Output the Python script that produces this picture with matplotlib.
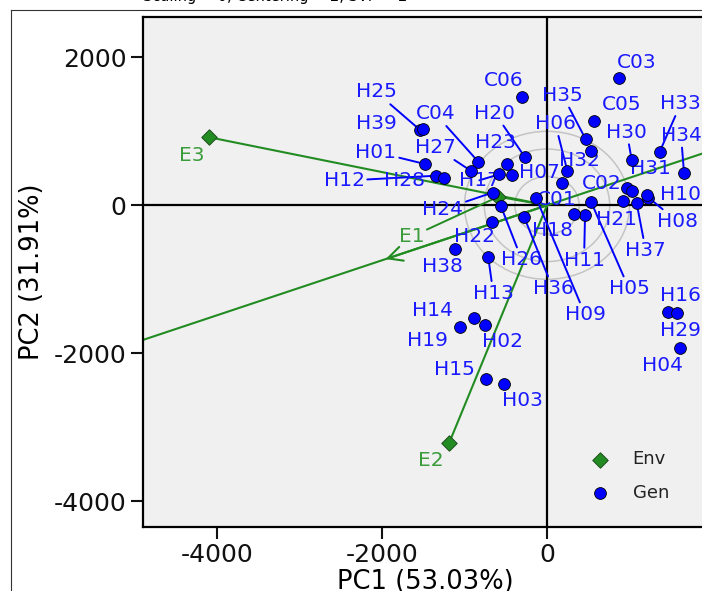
"""GGE biplot (discriminativeness vs. representativeness view) for the genotype/environment PCA."""

import matplotlib

matplotlib.use("Agg")
import matplotlib.pyplot as plt
import numpy as np
from matplotlib.lines import Line2D
from matplotlib.patches import Ellipse

plt.rcParams["axes.unicode_minus"] = False

# --- data --------------------------------------------------------------------
gen_names = [
    "C01", "C02", "C03", "C04", "C05", "C06",
    "H01", "H02", "H03", "H04", "H05", "H06", "H07", "H08", "H09", "H10",
    "H11", "H12", "H13", "H14", "H15", "H16", "H17", "H18", "H19", "H20",
    "H21", "H22", "H23", "H24", "H25", "H26", "H27", "H28", "H29", "H30",
    "H31", "H32", "H33", "H34", "H35", "H36", "H37", "H38", "H39",
]
gen_pc1 = [
    178, 966, 873, -833, 570, -299,
    -1479, -752, -518, 1612, 533, 246, -421, 1230, -133, 1212,
    461, -1345, -712, -885, -739, 1470, -578, 327, -1055, -267,
    918, -663, -481, -658, -1539, -561, -925, -1248, 1572, 1027,
    1027, 533, 1366, 1661, 469, -279, 1087, -1115, -1509,
]
gen_pc2 = [
    297, 238, 1716, 589, 1139, 1468,
    558, -1618, -2419, -1932, 49, 468, 409, 105, 103, 146,
    -131, 400, -703, -1527, -2347, -1446, 419, -122, -1641, 649,
    62, -222, 558, 173, 1018, -5, 468, 365, -1459, 612,
    197, 738, 724, 432, 892, -154, 27, -591, 1031,
]

env_names = ["E1", "E2", "E3"]
env_pc1 = [-590, -1188, -4093]
env_pc2 = [116, -3216, 919]

circle_radii = [390, 760, 1000]

pc1_share = 53.03
pc2_share = 31.91

# --- layout / style -----------------------------------------------------------
GEN_COLOR = "#0000ff"
GEN_TEXT = "#1a1aff"
ENV_COLOR = "#228b22"
ENV_TEXT = "#3a9c3a"
LABEL_SIZE = 14.5
AXIS_SIZE = 18

# label offset from its point, in pixels (right, down) as measured on the picture
LABEL_OFFSETS = {
    "C01": (-5, 16), "C02": (-25, -4), "C03": (18, -16), "C04": (-43, -48),
    "C05": (28, -17), "C06": (-19, -16), "H01": (-49, -12), "H02": (18, 16),
    "H03": (18, 16), "H04": (-18, 17), "H05": (38, 87), "H06": (-12, -47),
    "H07": (27, -3), "H08": (29, 24), "H09": (49, 117), "H10": (33, 0),
    "H11": (-1, 45), "H12": (-92, 5), "H13": (5, 36), "H14": (-41, -8),
    "H15": (-32, -9), "H16": (12, -17), "H17": (-20, 6), "H18": (-21, 16),
    "H19": (-33, 14), "H20": (-30, -44), "H21": (-6, 19), "H22": (-18, 15),
    "H23": (-12, -22), "H24": (-50, 17), "H25": (-44, -38), "H26": (21, 54),
    "H27": (-35, -23), "H28": (-40, 2), "H29": (4, 17), "H30": (-5, -28),
    "H31": (19, -22), "H32": (-12, 10), "H33": (21, -48), "H34": (-3, -38),
    "H35": (-23, -44), "H36": (29, 72), "H37": (9, 47), "H38": (-13, 17),
    "H39": (-46, -6),
}
LEADERS = {
    "C04", "H01", "H05", "H06", "H08", "H09", "H11", "H12", "H13", "H17",
    "H20", "H24", "H25", "H26", "H27", "H30", "H33", "H34", "H35", "H36", "H37",
}
ENV_OFFSETS = {"E1": (-87, 40), "E2": (-18, 17), "E3": (-18, 18)}
ENV_LEADERS = {"E1"}

PX_TO_PT = 0.72  # figure is rendered at 100 dpi

fig = plt.figure(figsize=(7.02, 5.91), dpi=100)
ax = fig.add_axes([0.2037, 0.1088, 0.8034, 0.8616])
ax.set_facecolor("#f0f0f0")
ax.set_xlim(-4897, 1939)
ax.set_ylim(-4343, 2538)

# concentric reference circles around the origin (ellipses on screen)
for radius in circle_radii:
    ax.add_patch(Ellipse((0, 0), 2 * radius, 2 * radius, fill=False,
                         edgecolor="#c4c4c4", linewidth=1.1, zorder=1))

ax.axhline(0, color="black", linewidth=1.6, zorder=1.5)
ax.axvline(0, color="black", linewidth=1.6, zorder=1.5)

# environment vectors
for x, y in zip(env_pc1, env_pc2):
    ax.plot([0, x], [0, y], color=ENV_COLOR, linewidth=1.5, zorder=2)

# average-environment axis with arrow at the mean environment
mean_x = float(np.mean(env_pc1))
mean_y = float(np.mean(env_pc2))
ax.axline((0, 0), (mean_x, mean_y), color=ENV_COLOR, linewidth=1.5, zorder=2)
ax.annotate("", xy=(mean_x, mean_y), xytext=(0, 0),
            arrowprops=dict(arrowstyle="->", color=ENV_COLOR, lw=1.5,
                            mutation_scale=26, shrinkA=0, shrinkB=0),
            zorder=2)

# genotype labels
for name, x, y in zip(gen_names, gen_pc1, gen_pc2):
    dx, dy = LABEL_OFFSETS[name]
    arrow = None
    if name in LEADERS:
        arrow = dict(arrowstyle="-", color=GEN_COLOR, lw=1.4, shrinkA=0, shrinkB=0)
    ax.annotate(name, xy=(x, y), xytext=(dx * PX_TO_PT, -dy * PX_TO_PT),
                textcoords="offset points", ha="center", va="center",
                fontsize=LABEL_SIZE, color=GEN_TEXT, arrowprops=arrow, zorder=3)

for name, x, y in zip(env_names, env_pc1, env_pc2):
    dx, dy = ENV_OFFSETS[name]
    arrow = None
    if name in ENV_LEADERS:
        arrow = dict(arrowstyle="-", color=ENV_COLOR, lw=1.4, shrinkA=0, shrinkB=0)
    ax.annotate(name, xy=(x, y), xytext=(dx * PX_TO_PT, -dy * PX_TO_PT),
                textcoords="offset points", ha="center", va="center",
                fontsize=LABEL_SIZE, color=ENV_TEXT, arrowprops=arrow, zorder=3)

ax.scatter(env_pc1, env_pc2, marker="D", s=62, color=ENV_COLOR,
           edgecolors="#1f4f1f", linewidths=0.7, zorder=4, label="Env")
ax.scatter(gen_pc1, gen_pc2, marker="o", s=72, color=GEN_COLOR,
           edgecolors="black", linewidths=0.6, zorder=4, label="Gen")

ax.set_xticks([-4000, -2000, 0])
ax.set_yticks([2000, 0, -2000, -4000])
ax.tick_params(axis="both", labelsize=AXIS_SIZE, length=8.5, width=1.5,
               direction="out", colors="#111111")
for spine in ax.spines.values():
    spine.set_linewidth(1.6)
ax.set_xlabel(f"PC1 ({pc1_share:.2f}%)", fontsize=18.5, labelpad=1.5)
ax.set_ylabel(f"PC2 ({pc2_share:.2f}%)", fontsize=18.5, labelpad=6)

leg = ax.legend(loc="upper left", bbox_to_anchor=(0.7656, 0.1640), borderaxespad=0,
                frameon=False, fontsize=13, labelspacing=0.85, handletextpad=0.8)
for text in leg.get_texts():
    text.set_color("#222222")

# subtitle and outer frame, both mostly cut off in the cropped picture
fig.text(143 / 702, 1 - 1.5 / 591, "Scaling = 0, Centering = 2, SVP = 2",
         fontsize=10.5, ha="left", va="baseline")
fig.add_artist(Line2D([11 / 702, 11 / 702], [0, 1 - 9.5 / 591], color="#333333",
                      linewidth=0.8, transform=fig.transFigure))
fig.add_artist(Line2D([11 / 702, 1], [1 - 9.5 / 591, 1 - 9.5 / 591], color="#333333",
                      linewidth=0.8, transform=fig.transFigure))

fig.savefig("out.png", dpi=100)
